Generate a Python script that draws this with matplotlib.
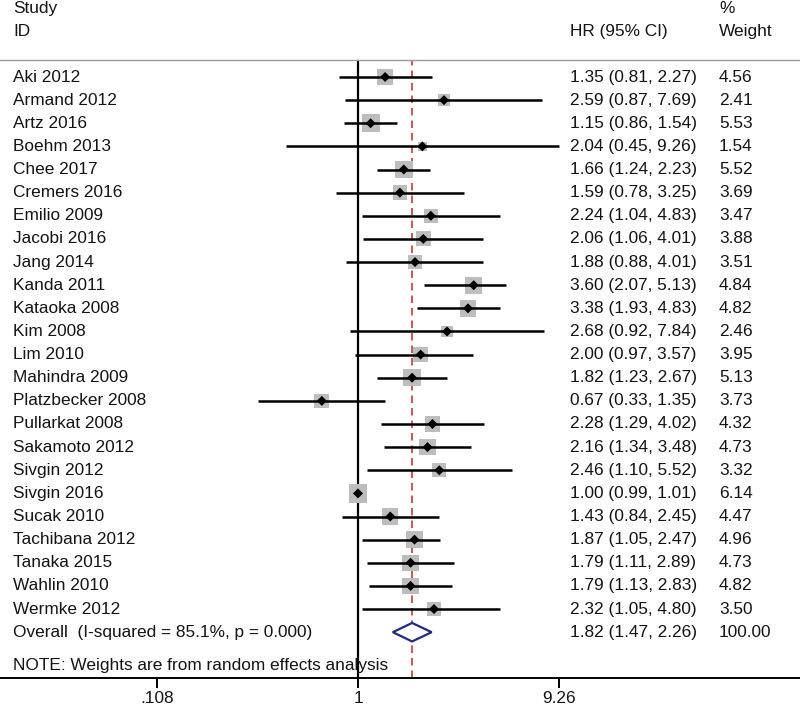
import matplotlib
matplotlib.use("Agg")
import matplotlib.pyplot as plt
from matplotlib.ticker import FixedLocator, FixedFormatter, NullLocator
import numpy as np

plt.rcParams['font.family'] = ['Liberation Sans', 'DejaVu Sans']

studies = ["Aki 2012", "Armand 2012", "Artz 2016", "Boehm 2013", "Chee 2017",
           "Cremers 2016", "Emilio 2009", "Jacobi 2016", "Jang 2014", "Kanda 2011",
           "Kataoka 2008", "Kim 2008", "Lim 2010", "Mahindra 2009",
           "Platzbecker 2008", "Pullarkat 2008", "Sakamoto 2012", "Sivgin 2012",
           "Sivgin 2016", "Sucak 2010", "Tachibana 2012", "Tanaka 2015",
           "Wahlin 2010", "Wermke 2012"]
hr = [1.35, 2.59, 1.15, 2.04, 1.66, 1.59, 2.24, 2.06, 1.88, 3.60, 3.38, 2.68,
      2.00, 1.82, 0.67, 2.28, 2.16, 2.46, 1.00, 1.43, 1.87, 1.79, 1.79, 2.32]
lo = [0.81, 0.87, 0.86, 0.45, 1.24, 0.78, 1.04, 1.06, 0.88, 2.07, 1.93, 0.92,
      0.97, 1.23, 0.33, 1.29, 1.34, 1.10, 0.99, 0.84, 1.05, 1.11, 1.13, 1.05]
hi = [2.27, 7.69, 1.54, 9.26, 2.23, 3.25, 4.83, 4.01, 4.01, 5.13, 4.83, 7.84,
      3.57, 2.67, 1.35, 4.02, 3.48, 5.52, 1.01, 2.45, 2.47, 2.89, 2.83, 4.80]
weights = [4.56, 2.41, 5.53, 1.54, 5.52, 3.69, 3.47, 3.88, 3.51, 4.84, 4.82, 2.46,
           3.95, 5.13, 3.73, 4.32, 4.73, 3.32, 6.14, 4.47, 4.96, 4.73, 4.82, 3.50]
overall_label = "Overall  (I-squared = 85.1%, p = 0.000)"
overall_hr, overall_lo, overall_hi = 1.82, 1.47, 2.26
overall_weight = 100.00
note = "NOTE: Weights are from random effects analysis"
tick_vals = [0.108, 1, 9.26]
tick_labels = [".108", "1", "9.26"]

W, H = 800, 709
fig = plt.figure(figsize=(W / 100, H / 100), dpi=100)
ax = fig.add_axes([0, 31 / H, 1, 618 / H])
ax.set_xscale('log')
ppd = 208.0
ax.set_xlim(10 ** (-358 / ppd), 10 ** ((W - 358) / ppd))
ax.set_ylim(25.98, -0.735)

FS = 12.4
TXT = '#141414'

# reference lines
ax.axvline(1, color='black', lw=1.6, zorder=2)
ax.axvline(overall_hr, color='#c0393b', lw=1.2, ls=(0, (4.5, 3)), zorder=1)

n = len(studies)
ys = np.arange(n)
sizes = [(7.6 * np.sqrt(w) * 0.72) ** 2 for w in weights]
ax.scatter(hr, ys, s=sizes, marker='s', color='#bdbdbd', edgecolors='none', zorder=3)
ax.hlines(ys, lo, hi, color='black', lw=1.8, zorder=4)
ax.scatter(hr, ys, s=26, marker='D', color='black', edgecolors='none', zorder=5)

# overall diamond
yo = n
dh = 0.4
ax.fill([overall_lo, overall_hr, overall_hi, overall_hr, overall_lo],
        [yo, yo - dh, yo, yo + dh, yo], facecolor='white', edgecolor='#1f2a8a',
        lw=1.6, zorder=5)

# texts
xs = lambda px: px / W
tr = ax.get_yaxis_transform()  # x axes coords, y data
for i, s in enumerate(studies):
    ax.text(xs(13), i, s, transform=tr, ha='left', va='center', fontsize=FS, color=TXT)
    ax.text(xs(570), i, f"{hr[i]:.2f} ({lo[i]:.2f}, {hi[i]:.2f})", transform=tr,
            ha='left', va='center', fontsize=FS, color=TXT)
    ax.text(xs(719), i, f"{weights[i]:.2f}", transform=tr, ha='left', va='center',
            fontsize=FS, color=TXT)
ax.text(xs(13), yo, overall_label, transform=tr, ha='left', va='center', fontsize=FS, color=TXT)
ax.text(xs(570), yo, f"{overall_hr:.2f} ({overall_lo:.2f}, {overall_hi:.2f})", transform=tr,
        ha='left', va='center', fontsize=FS, color=TXT)
ax.text(xs(719), yo, f"{overall_weight:.2f}", transform=tr, ha='left', va='center',
        fontsize=FS, color=TXT)
ax.text(xs(13), 25.42, note, transform=tr, ha='left', va='center', fontsize=FS, color=TXT)

# headers
ax.text(xs(13), -2.94, "Study", transform=tr, ha='left', va='center', fontsize=FS,
        color=TXT, clip_on=False)
ax.text(xs(13), -1.95, "ID", transform=tr, ha='left', va='center', fontsize=FS,
        color=TXT, clip_on=False)
ax.text(xs(570), -1.95, "HR (95% CI)", transform=tr, ha='left', va='center', fontsize=FS,
        color=TXT, clip_on=False)
ax.text(xs(719), -2.94, "%", transform=tr, ha='left', va='center', fontsize=FS,
        color=TXT, clip_on=False)
ax.text(xs(719), -1.95, "Weight", transform=tr, ha='left', va='center', fontsize=FS,
        color=TXT, clip_on=False)

# spines and ticks
for side in ['left', 'right']:
    ax.spines[side].set_visible(False)
ax.spines['top'].set_color('#9a9a9a')
ax.spines['top'].set_linewidth(1.0)
ax.spines['bottom'].set_color('black')
ax.spines['bottom'].set_linewidth(1.4)
ax.xaxis.set_major_locator(FixedLocator(tick_vals))
ax.xaxis.set_major_formatter(FixedFormatter(tick_labels))
ax.xaxis.set_minor_locator(NullLocator())
ax.tick_params(axis='x', direction='out', length=7, width=1.4, labelsize=FS,
               pad=2.5, colors='black', labelcolor=TXT)
ax.set_yticks([])
ax.set_facecolor('white')

fig.savefig("out.png", dpi=100, facecolor='white')
